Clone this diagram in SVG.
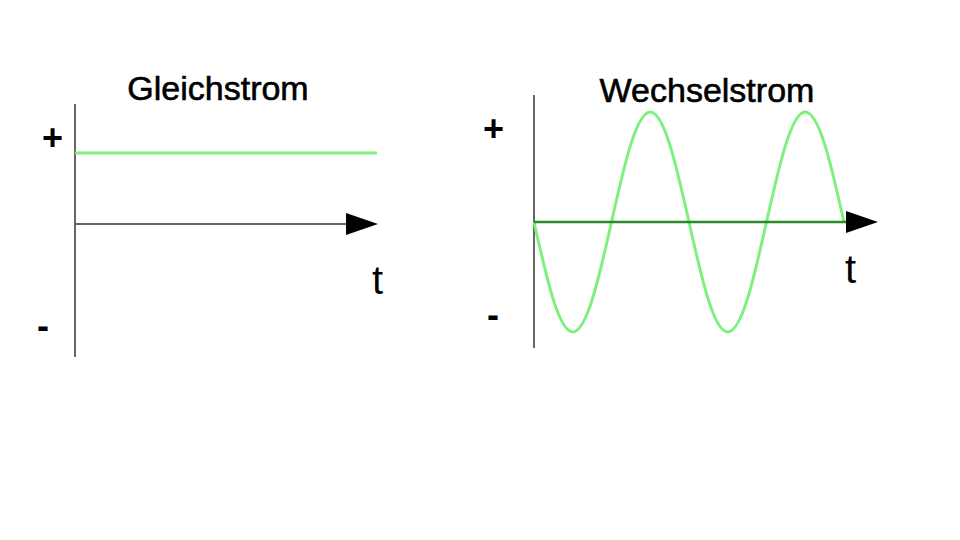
<svg xmlns="http://www.w3.org/2000/svg" width="960" height="540" viewBox="0 0 960 540">
<style>
.t{font-family:"Liberation Sans",Arial,sans-serif;fill:#000}
.title{font-size:34px;text-anchor:middle;stroke:#000;stroke-width:0.6}
.lab{font-size:36px;font-weight:bold}
.tt{font-size:40px}
.ax{stroke:#000;stroke-width:1.2;fill:none}
.sig{stroke:#7ef07e;stroke-width:3;fill:none}
</style>
<defs>
<marker id="arr" markerWidth="32" markerHeight="22" refX="0" refY="11" orient="auto" markerUnits="userSpaceOnUse">
<path d="M0,0 L32,11 L0,22 Z" fill="#000"/>
</marker>
</defs>
<rect width="960" height="540" fill="#fff"/>
<g id="gleichstrom">
<text class="t title" x="218" y="100">Gleichstrom</text>
<line class="ax" x1="75" y1="104" x2="75" y2="357"/>
<text class="t lab" x="42" y="150">+</text>
<text class="t lab" x="37" y="338">-</text>
<text class="t tt" x="372" y="294">t</text>
<line class="sig" x1="75" y1="153" x2="377" y2="153"/>
</g>
<g id="wechselstrom">
<text class="t title" x="707" y="102">Wechselstrom</text>
<line class="ax" x1="534" y1="95" x2="534" y2="348"/>
<text class="t lab" x="483" y="141">+</text>
<text class="t lab" x="487" y="327">-</text>
<text class="t tt" x="845" y="283">t</text>
<path class="sig" d="M534,222 C546.6,278.4 558.7,332 572.75,332 S598.9,278.4 611.5,222 S636.2,112 650.25,112 S676.4,165.6 689,222 S713.7,332 727.75,332 S753.9,278.4 766.5,222 S791.2,112 805.25,112 S831.4,165.6 844,222"/>
</g>
<g id="connectors">
<line x1="75" y1="224" x2="346" y2="224" stroke="#666" stroke-width="2" marker-end="url(#arr)"/>
<line x1="534" y1="222" x2="846" y2="222" stroke="#2a8a2a" stroke-width="2.5" marker-end="url(#arr)"/>
</g>
</svg>
